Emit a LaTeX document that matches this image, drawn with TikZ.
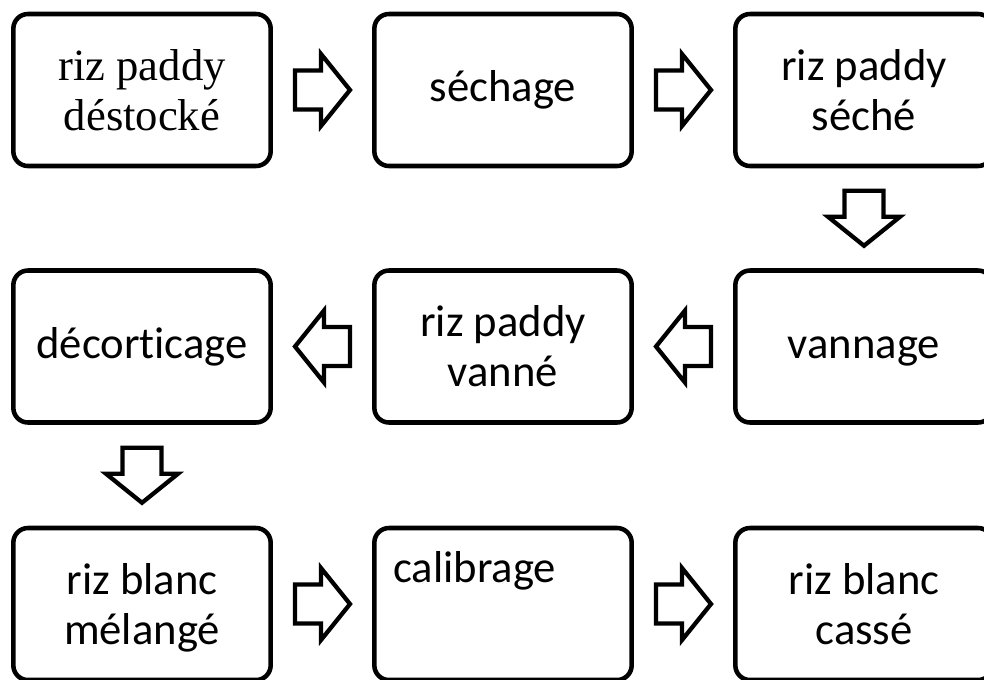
\documentclass[tikz,border=0pt]{standalone}
\usepackage{fontspec}
\setmainfont{Carlito}[Ligatures=NoCommon]
\newfontfamily\serifface{Liberation Serif}
\usetikzlibrary{calc}
\tikzset{
  box/.style={draw, line width=3.4pt, rounded corners=11pt, minimum width=193pt, minimum height=114pt,
    align=center, inner sep=0pt, font=\fontsize{33.5}{37.5}\selectfont},
  lbl/.style={inner sep=0pt, font=\fontsize{33.5}{37.5}\selectfont},
  barrow/.style={draw, line width=3.2pt, fill=white, miter limit=10},
  blockarrow/.pic={\draw[barrow] (-27.5,-19.5) -- (-1.5,-19.5) -- (-1.5,-36) -- (27.5,0) -- (-1.5,36) -- (-1.5,19.5) -- (-27.5,19.5) -- cycle;}
}
\begin{document}
\begin{tikzpicture}[x=0.75pt,y=-0.75pt]
\useasboundingbox (0,0) rectangle (984,679);
% row 1
\node[box] (b1) at (142,90) {\serifface riz paddy\\\serifface déstocké};
\node[box] (b2) at (503,90) {séchage};
\node[box] (b3) at (864,90) {riz paddy\\séché};
% row 2
\node[box] (b4) at (142,346.5) {décorticage};
\node[box] (b5) at (503,346.5) {riz paddy\\vanné};
\node[box] (b6) at (864,346.5) {\vphantom{d}vannage};
% row 3
\node[box] (b7) at (142,604) {riz blanc\\\raisebox{0pt}[\height][0pt]{mélangé}};
\node[box] (b8) at (503,604) {};
\node[lbl, anchor=base west] (t8) at (393,582) {calibrage};
\node[box] (b9) at (864,604) {riz blanc\\cassé};
% block arrows
\pic at ($(b1.east)!0.5!(b2.west)$) {blockarrow};
\pic at ($(b2.east)!0.5!(b3.west)$) {blockarrow};
\pic[rotate=-90] at ($(b3.south)!0.5!(b6.north)$) {blockarrow};
\pic[rotate=180] at ($(b6.west)!0.5!(b5.east)$) {blockarrow};
\pic[rotate=180] at ($(b5.west)!0.5!(b4.east)$) {blockarrow};
\pic[rotate=-90] at ($(b4.south)!0.5!(b7.north)$) {blockarrow};
\pic at ($(b7.east)!0.5!(b8.west)$) {blockarrow};
\pic at ($(b8.east)!0.5!(b9.west)$) {blockarrow};
\end{tikzpicture}
\end{document}
